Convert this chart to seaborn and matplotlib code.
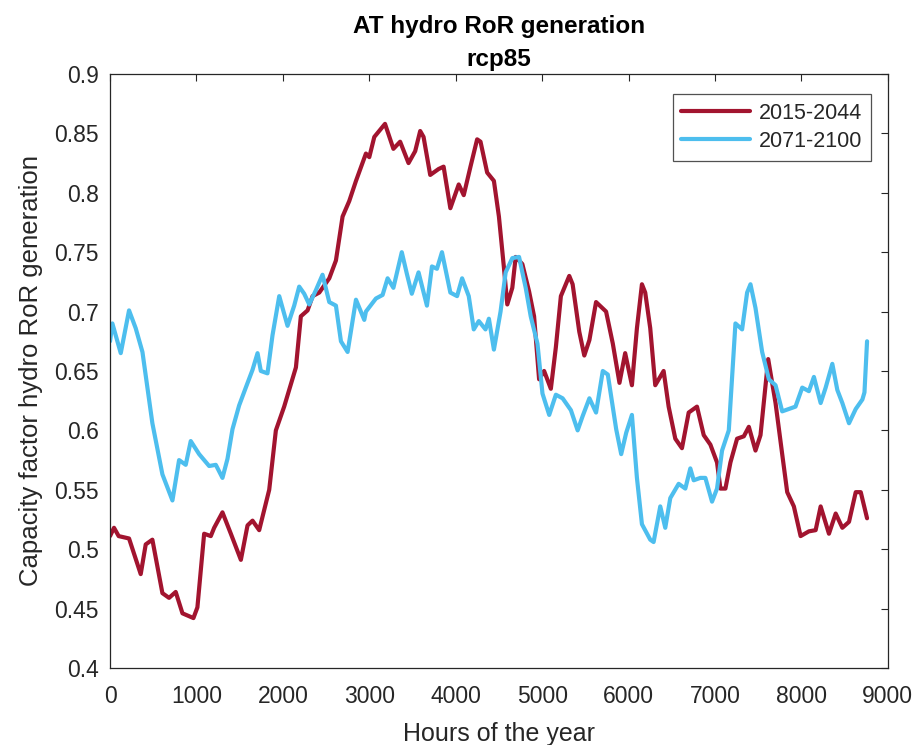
import numpy as np
import pandas as pd
import matplotlib
matplotlib.use("Agg")
import matplotlib.pyplot as plt
import seaborn as sns

title_text = "AT hydro RoR generation\nrcp85"
x_label = "Hours of the year"
y_label = "Capacity factor hydro RoR generation"
series_names = ["2015-2044", "2071-2100"]

hours_early = [0, 46, 100, 220, 355, 413, 490, 606, 683, 760, 838, 965, 1011, 1089, 1166, 1205, 1301, 1398,
               1514, 1591, 1649, 1726, 1842, 1919, 2015, 2151, 2208, 2286, 2344, 2421, 2537, 2614, 2691,
               2768, 2846, 2961, 3000, 3058, 3182, 3279, 3357, 3454, 3531, 3589, 3628, 3705, 3802, 3860,
               3938, 4035, 4093, 4171, 4248, 4287, 4364, 4442, 4500, 4558, 4597, 4655, 4694, 4771, 4849,
               4907, 4965, 5023, 5101, 5159, 5217, 5314, 5353, 5430, 5488, 5547, 5624, 5740, 5818, 5895,
               5961, 6039, 6097, 6155, 6193, 6251, 6309, 6406, 6464, 6541, 6618, 6696, 6792, 6870, 6947,
               7024, 7063, 7121, 7179, 7256, 7334, 7392, 7469, 7527, 7616, 7701, 7778, 7836, 7913, 7991,
               8087, 8165, 8223, 8319, 8397, 8474, 8551, 8629, 8687, 8760]
cf_early = [0.511, 0.518, 0.511, 0.509, 0.479, 0.504, 0.508, 0.463, 0.459, 0.464, 0.446, 0.442, 0.451, 0.513,
            0.511, 0.518, 0.531, 0.513, 0.491, 0.520, 0.524, 0.516, 0.550, 0.600, 0.620, 0.653, 0.696, 0.701,
            0.713, 0.716, 0.728, 0.743, 0.780, 0.793, 0.810, 0.833, 0.830, 0.847, 0.858, 0.837, 0.843, 0.825,
            0.835, 0.852, 0.847, 0.815, 0.820, 0.822, 0.787, 0.807, 0.798, 0.822, 0.845, 0.843, 0.817, 0.810,
            0.780, 0.737, 0.706, 0.720, 0.746, 0.740, 0.717, 0.696, 0.643, 0.650, 0.635, 0.670, 0.713, 0.730,
            0.723, 0.683, 0.663, 0.676, 0.708, 0.700, 0.673, 0.640, 0.665, 0.638, 0.686, 0.723, 0.716, 0.686,
            0.638, 0.650, 0.620, 0.593, 0.585, 0.615, 0.620, 0.596, 0.588, 0.573, 0.551, 0.551, 0.573, 0.593,
            0.595, 0.603, 0.583, 0.596, 0.660, 0.623, 0.580, 0.548, 0.536, 0.511, 0.515, 0.516, 0.536, 0.513,
            0.530, 0.518, 0.523, 0.548, 0.548, 0.526]

hours_late = [0, 27, 124, 220, 297, 375, 490, 606, 722, 799, 876, 934, 1031, 1147, 1224, 1301, 1359, 1417,
              1494, 1571, 1649, 1707, 1745, 1822, 1880, 1958, 2054, 2131, 2189, 2247, 2305, 2382, 2459, 2537,
              2614, 2672, 2749, 2846, 2942, 2961, 3077, 3154, 3212, 3279, 3376, 3434, 3492, 3570, 3667, 3725,
              3783, 3841, 3938, 4016, 4074, 4151, 4209, 4267, 4345, 4384, 4442, 4519, 4578, 4655, 4733, 4810,
              4868, 4946, 5004, 5082, 5159, 5237, 5333, 5411, 5469, 5547, 5624, 5702, 5760, 5857, 5915, 5973,
              6039, 6097, 6155, 6251, 6290, 6367, 6425, 6483, 6580, 6657, 6715, 6754, 6831, 6889, 6966, 7024,
              7082, 7160, 7237, 7314, 7372, 7411, 7469, 7546, 7624, 7701, 7778, 7855, 7932, 8010, 8087, 8145,
              8223, 8281, 8358, 8416, 8474, 8551, 8629, 8706, 8730, 8760]
cf_late = [0.675, 0.690, 0.665, 0.701, 0.686, 0.666, 0.606, 0.563, 0.541, 0.575, 0.571, 0.591, 0.580, 0.570,
           0.571, 0.560, 0.576, 0.601, 0.621, 0.636, 0.651, 0.665, 0.650, 0.648, 0.680, 0.713, 0.688, 0.705,
           0.721, 0.715, 0.706, 0.718, 0.731, 0.708, 0.705, 0.675, 0.666, 0.710, 0.693, 0.700, 0.711, 0.714,
           0.728, 0.720, 0.750, 0.732, 0.715, 0.733, 0.705, 0.738, 0.736, 0.750, 0.716, 0.713, 0.728, 0.713,
           0.685, 0.692, 0.685, 0.694, 0.668, 0.700, 0.733, 0.745, 0.746, 0.720, 0.696, 0.673, 0.631, 0.613,
           0.630, 0.627, 0.617, 0.600, 0.612, 0.627, 0.615, 0.650, 0.647, 0.601, 0.580, 0.598, 0.613, 0.560,
           0.521, 0.508, 0.506, 0.536, 0.518, 0.543, 0.555, 0.551, 0.568, 0.558, 0.560, 0.560, 0.540, 0.551,
           0.583, 0.600, 0.690, 0.685, 0.716, 0.723, 0.703, 0.666, 0.643, 0.638, 0.616, 0.618, 0.620, 0.636,
           0.633, 0.645, 0.623, 0.636, 0.656, 0.634, 0.623, 0.606, 0.618, 0.626, 0.632, 0.675]

x_ticks = [0, 1000, 2000, 3000, 4000, 5000, 6000, 7000, 8000, 9000]
y_ticks = [0.4, 0.45, 0.5, 0.55, 0.6, 0.65, 0.7, 0.75, 0.8, 0.85, 0.9]
y_tick_labels = ["0.4", "0.45", "0.5", "0.55", "0.6", "0.65", "0.7", "0.75", "0.8", "0.85", "0.9"]
colors = ["#A2142F", "#4DBEEE"]

df = pd.concat([
    pd.DataFrame({"hour": hours_early, "cf": cf_early, "period": series_names[0]}),
    pd.DataFrame({"hour": hours_late, "cf": cf_late, "period": series_names[1]}),
], ignore_index=True)

sns.set_theme(style="white")
plt.rcParams["font.family"] = ["Liberation Sans", "DejaVu Sans"]

fig = plt.figure(figsize=(9.2, 7.45), dpi=100)
ax = fig.add_axes([0.1196, 0.1034, 0.8454, 0.7973])

sns.lineplot(data=df, x="hour", y="cf", hue="period", palette=colors, estimator=None,
             sort=False, linewidth=3.0, ax=ax)

ax.set_xlim(0, 9000)
ax.set_ylim(0.4, 0.9)
ax.set_xticks(x_ticks)
ax.set_xticklabels([str(t) for t in x_ticks])
ax.set_yticks(y_ticks)
ax.set_yticklabels(y_tick_labels)

edge = "#262626"
for s in ax.spines.values():
    s.set_visible(True)
    s.set_color(edge)
    s.set_linewidth(0.9)
ax.tick_params(axis="both", which="both", direction="in", length=5, width=0.8,
               colors=edge, labelsize=16.5, top=True, right=True, labelcolor="#262626")
ax.tick_params(axis="x", pad=12)
ax.tick_params(axis="y", pad=8)

ax.set_xlabel(x_label, fontsize=18, color="#262626", labelpad=10)
ax.set_ylabel(y_label, fontsize=18.5, color="#262626", labelpad=8)
ax.set_title(title_text, fontsize=17.5, fontweight="bold", color="black", pad=6, linespacing=1.55)

leg = ax.legend(loc="upper right", bbox_to_anchor=(0.978, 0.966), fontsize=15.5, frameon=True,
                fancybox=False, handlelength=3.2, borderaxespad=0.0, borderpad=0.4,
                labelspacing=0.33, handletextpad=0.4, title=None)
leg.get_frame().set_edgecolor(edge)
leg.get_frame().set_linewidth(0.9)
for line in leg.get_lines():
    line.set_linewidth(3.0)

fig.savefig("out.png", dpi=100, facecolor="white")
